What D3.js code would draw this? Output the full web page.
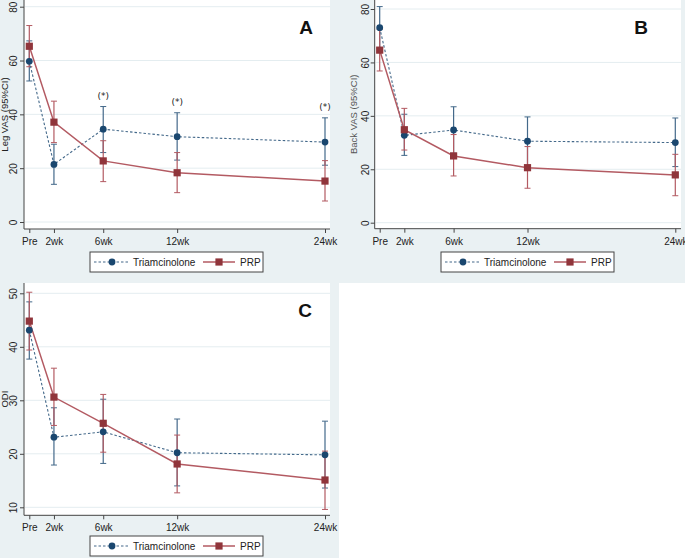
<!DOCTYPE html>
<html>
<head>
<meta charset="utf-8">
<script src="https://d3js.org/d3.v7.min.js"></script>
<style>
  body { margin: 0; background: #fff; }
  svg { display: block; font-family: "Liberation Sans", Arial, sans-serif; }
</style>
</head>
<body>
<div id="chart"></div>
<script type="text/javascript">

// time points (weeks) and their labels
var weeks = [0, 2, 6, 12, 24];
var weekLabels = ["Pre", "2wk", "6wk", "12wk", "24wk"];
var seriesNames = ["Triamcinolone", "PRP"];

var vasTicks = [0, 20, 40, 60, 80];
var odiTicks = [10, 20, 30, 40, 50];

// A: Leg VAS
var legTri   = [59.7, 21.4, 34.5, 31.7, 29.7];
var legTriLo = [52.4, 14.0, 25.8, 23.0, 21.1];
var legTriHi = [67.3, 28.9, 42.9, 40.6, 38.7];
var legPrp   = [65.3, 37.1, 22.7, 18.3, 15.2];
var legPrpLo = [57.7, 29.5, 15.0, 10.9, 7.8];
var legPrpHi = [73.0, 44.9, 30.2, 25.8, 22.8];
var legStarWeeks = [6, 12, 24];

// B: Back VAS
var backTri   = [73.0, 32.7, 34.7, 30.5, 30.0];
var backTriLo = [65.2, 25.2, 26.0, 21.4, 21.0];
var backTriHi = [80.9, 40.6, 43.4, 39.6, 39.2];
var backPrp   = [64.6, 34.8, 25.0, 20.6, 17.9];
var backPrpLo = [56.8, 27.2, 17.5, 12.9, 10.1];
var backPrpHi = [72.4, 42.8, 33.0, 28.5, 25.6];

// C: ODI
var odiTri   = [43.1, 23.1, 24.1, 20.2, 19.8];
var odiTriLo = [37.7, 17.9, 18.2, 14.0, 13.6];
var odiTriHi = [48.4, 28.6, 30.2, 26.5, 26.1];
var odiPrp   = [44.8, 30.6, 25.7, 18.1, 15.1];
var odiPrpLo = [39.4, 25.3, 20.3, 12.7, 9.6];
var odiPrpHi = [50.2, 36.0, 31.1, 23.5, 20.5];

var bgColor = "#eaf1f3";
var gridColor = "#e4edf0";
var triColor = "#1a476f", triLine = "#44698a";
var prpColor = "#90353b", prpLine = "#b35a62";

var width = 685, height = 558;

var svg = d3.select("#chart").append("svg")
    .attr("width", width)
    .attr("height", height);

// graph region backgrounds
svg.append("rect").attr("x", 0).attr("y", 0).attr("width", width).attr("height", 283).attr("fill", bgColor);
svg.append("rect").attr("x", 0).attr("y", 283).attr("width", 339).attr("height", 275).attr("fill", bgColor);

function makeRows(mean, lo, hi) {
  return weeks.map(function(w, i) {
    return {week: w, label: weekLabels[i], mean: mean[i], lo: lo[i], hi: hi[i]};
  });
}

function drawPanel(p) {
  var g = svg.append("g");

  var x = d3.scaleLinear().domain([0, 24]).range(p.xRange);
  var y = d3.scaleLinear().domain(p.yDomain).range(p.yRange);

  // plot region
  g.append("rect")
    .attr("x", p.plot.x0).attr("y", p.plot.y0)
    .attr("width", p.plot.x1 - p.plot.x0)
    .attr("height", p.plot.y1 - p.plot.y0)
    .attr("fill", "#fff");

  // grid
  g.selectAll(".grid").data(p.ticks).enter().append("line")
    .attr("x1", p.plot.x0 + 1).attr("x2", p.plot.x1)
    .attr("y1", function(d){ return y(d); })
    .attr("y2", function(d){ return y(d); })
    .attr("stroke", gridColor).attr("stroke-width", 1);

  // y axis
  var yAxis = g.append("g")
    .attr("transform", "translate(" + p.plot.x0 + ",0)")
    .call(d3.axisLeft(y).tickValues(p.ticks).tickSize(4).tickSizeOuter(0));
  yAxis.select(".domain").remove();
  yAxis.append("line")
    .attr("x1", 0).attr("x2", 0).attr("y1", p.plot.y0).attr("y2", p.plot.y1)
    .attr("stroke", "#444");
  yAxis.selectAll(".tick line").attr("stroke", "#444");
  yAxis.selectAll(".tick text")
    .attr("x", null).attr("dy", null)
    .attr("transform", "translate(" + (p.yLabelOff) + ",0) rotate(-90)")
    .attr("text-anchor", "middle")
    .attr("font-size", 10).attr("fill", "#222")
    .style("font-family", "'Liberation Sans', Arial, sans-serif");

  // x axis
  var xAxis = g.append("g")
    .attr("transform", "translate(0," + p.plot.y1 + ")")
    .call(d3.axisBottom(x).tickValues(weeks)
      .tickFormat(function(d, i){ return weekLabels[i]; })
      .tickSize(4).tickSizeOuter(0));
  xAxis.select(".domain").remove();
  xAxis.append("line")
    .attr("x1", p.plot.x0).attr("x2", p.plot.x1).attr("y1", 0).attr("y2", 0)
    .attr("stroke", "#444");
  xAxis.selectAll(".tick line").attr("stroke", "#444");
  xAxis.selectAll(".tick text")
    .attr("y", 16).attr("dy", null)
    .attr("font-size", 10).attr("fill", "#222")
    .style("font-family", "'Liberation Sans', Arial, sans-serif");

  // y title
  g.append("text")
    .attr("transform", "translate(" + p.titleX + "," + ((p.plot.y0 + p.plot.y1) / 2) + ") rotate(-90)")
    .attr("text-anchor", "middle")
    .attr("font-size", 9.5)
    .attr("fill", p.titleColor)
    .text(p.title);

  var series = [
    {rows: makeRows(p.tri[0], p.tri[1], p.tri[2]), color: triColor, line: triLine, dash: "2.5,2", shape: "circle"},
    {rows: makeRows(p.prp[0], p.prp[1], p.prp[2]), color: prpColor, line: prpLine, dash: null, shape: "square"}
  ];

  var line = d3.line().x(function(d){ return x(d.week); }).y(function(d){ return y(d.mean); });

  // error bars
  series.forEach(function(s) {
    var eb = g.append("g");
    eb.selectAll(".ci").data(s.rows).enter().append("line")
      .attr("x1", function(d){ return x(d.week); })
      .attr("x2", function(d){ return x(d.week); })
      .attr("y1", function(d){ return y(d.lo); })
      .attr("y2", function(d){ return y(d.hi); })
      .attr("stroke", s.line).attr("stroke-width", 1.2);
    eb.selectAll(".capLo").data(s.rows).enter().append("line")
      .attr("x1", function(d){ return x(d.week) - 3; })
      .attr("x2", function(d){ return x(d.week) + 3; })
      .attr("y1", function(d){ return y(d.lo); })
      .attr("y2", function(d){ return y(d.lo); })
      .attr("stroke", s.line).attr("stroke-width", 1);
    eb.selectAll(".capHi").data(s.rows).enter().append("line")
      .attr("x1", function(d){ return x(d.week) - 3; })
      .attr("x2", function(d){ return x(d.week) + 3; })
      .attr("y1", function(d){ return y(d.hi); })
      .attr("y2", function(d){ return y(d.hi); })
      .attr("stroke", s.line).attr("stroke-width", 1);
  });

  // connecting lines
  series.forEach(function(s) {
    g.append("path").datum(s.rows)
      .attr("d", line)
      .attr("fill", "none")
      .attr("stroke", s.line)
      .attr("stroke-width", s.dash ? 1.1 : 1.5)
      .attr("stroke-dasharray", s.dash);
  });

  // markers
  series.forEach(function(s) {
    if (s.shape === "circle") {
      g.selectAll(".m").data(s.rows).enter().append("circle")
        .attr("cx", function(d){ return x(d.week); })
        .attr("cy", function(d){ return y(d.mean); })
        .attr("r", 3.4).attr("fill", s.color);
    } else {
      g.selectAll(".m").data(s.rows).enter().append("rect")
        .attr("x", function(d){ return x(d.week) - 3.6; })
        .attr("y", function(d){ return y(d.mean) - 3.6; })
        .attr("width", 7.2).attr("height", 7.2).attr("fill", s.color);
    }
  });

  // significance marks
  if (p.stars) {
    var triRows = series[0].rows;
    g.selectAll(".star").data(p.stars).enter().append("text")
      .attr("x", function(d){ return x(d); })
      .attr("y", function(d){
        var r = triRows.filter(function(t){ return t.week === d; })[0];
        return y(r.hi) - 8;
      })
      .attr("text-anchor", "middle")
      .attr("font-size", 10).attr("fill", "#222")
      .style("font-family", "'DejaVu Sans', sans-serif")
      .attr("font-size", 9)
      .text("(*)");
  }

  // panel letter
  g.append("text")
    .attr("x", p.letterX).attr("y", p.letterY)
    .attr("text-anchor", "middle")
    .attr("font-size", 19).attr("font-weight", "bold")
    .attr("fill", "#111")
    .text(p.letter);

  // legend
  var lg = g.append("g").attr("transform", "translate(" + p.legend[0] + "," + p.legend[1] + ")");
  lg.append("rect").attr("x", 0).attr("y", 0).attr("width", 173).attr("height", 20)
    .attr("fill", "#fff").attr("stroke", "#444").attr("stroke-width", 1);
  lg.append("line").attr("x1", 4).attr("x2", 38).attr("y1", 10).attr("y2", 10)
    .attr("stroke", triLine).attr("stroke-width", 1.1).attr("stroke-dasharray", "2.5,2");
  lg.append("circle").attr("cx", 22).attr("cy", 10).attr("r", 3.4).attr("fill", triColor);
  lg.append("text").attr("x", 43).attr("y", 14).attr("font-size", 10).attr("fill", "#222").text(seriesNames[0]);
  lg.append("line").attr("x1", 113).attr("x2", 145).attr("y1", 10).attr("y2", 10)
    .attr("stroke", prpLine).attr("stroke-width", 1.5);
  lg.append("rect").attr("x", 125.4).attr("y", 6.4).attr("width", 7.2).attr("height", 7.2).attr("fill", prpColor);
  lg.append("text").attr("x", 150).attr("y", 14).attr("font-size", 10).attr("fill", "#222").text(seriesNames[1]);
}

drawPanel({
  plot: {x0: 24, x1: 330, y0: 0, y1: 229},
  xRange: [29.3, 325], yDomain: [0, 80], yRange: [222, 6.7],
  ticks: vasTicks, yLabelOff: -7, titleX: 8, title: "Leg VAS (95%CI)", titleColor: "#222",
  tri: [legTri, legTriLo, legTriHi], prp: [legPrp, legPrpLo, legPrpHi],
  stars: legStarWeeks, letter: "A", letterX: 306, letterY: 34, legend: [90, 252]
});

drawPanel({
  plot: {x0: 374.7, x1: 681, y0: 0, y1: 228.7},
  xRange: [379.7, 675.3], yDomain: [0, 80], yRange: [222.7, 9],
  ticks: vasTicks, yLabelOff: -6, titleX: 357, title: "Back VAS (95%CI)", titleColor: "#555",
  tri: [backTri, backTriLo, backTriHi], prp: [backPrp, backPrpLo, backPrpHi],
  stars: null, letter: "B", letterX: 641, letterY: 34, legend: [441, 252]
});

drawPanel({
  plot: {x0: 24, x1: 330, y0: 283, y1: 515.3},
  xRange: [29.3, 325], yDomain: [10, 50], yRange: [507.3, 293.3],
  ticks: odiTicks, yLabelOff: -7, titleX: 8, title: "ODI", titleColor: "#222",
  tri: [odiTri, odiTriLo, odiTriHi], prp: [odiPrp, odiPrpLo, odiPrpHi],
  stars: null, letter: "C", letterX: 305, letterY: 317, legend: [90, 536]
});

</script>
</body>
</html>
